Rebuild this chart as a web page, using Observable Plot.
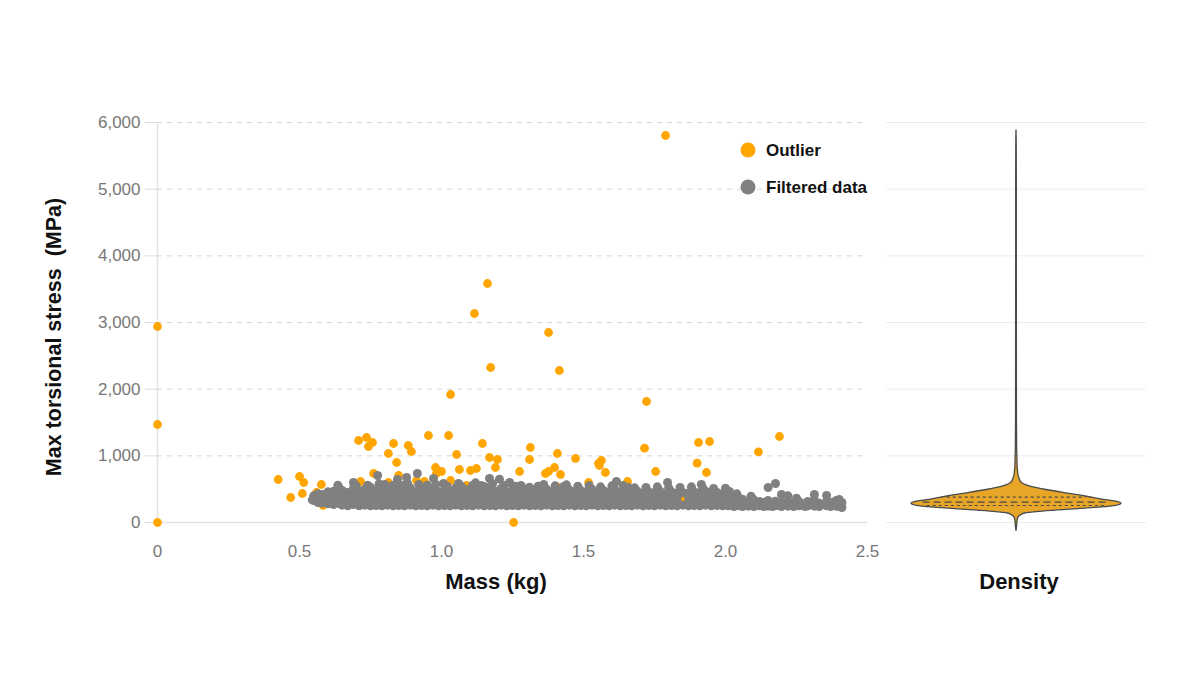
<!DOCTYPE html>
<html>
<head>
<meta charset="utf-8">
<script src="https://cdn.jsdelivr.net/npm/d3@7"></script>
<script src="https://cdn.jsdelivr.net/npm/@observablehq/plot@0.6"></script>
<style>
  html, body { margin: 0; padding: 0; background: #fff; }
  #wrap { position: relative; width: 1196px; height: 673px; overflow: hidden; background: #fff; }
  #wrap > .layer { position: absolute; top: 0; }
  #overlay { position: absolute; left: 0; top: 0; pointer-events: none; }
</style>
</head>
<body>
<div id="wrap">
  <div id="scatter" class="layer" style="left:0"></div>
  <div id="violin" class="layer" style="left:880px"></div>
  <svg id="overlay" width="1196" height="673"></svg>
</div>
<script>
// ---------- data ----------
const xTicks = [0, 0.5, 1.0, 1.5, 2.0, 2.5];
const xTickLabels = ["0", "0.5", "1.0", "1.5", "2.0", "2.5"];
const yTicks = [0, 1000, 2000, 3000, 4000, 5000, 6000];
const yTickLabels = ["0", "1,000", "2,000", "3,000", "4,000", "5,000", "6,000"];

const seriesNames = ["Outlier", "Filtered data"];
const seriesColors = ["#FFA500", "#808080"];

// Outliers: [mass kg, stress MPa]
const outliers = [
  [0, 2940], [0, 1470], [0, 0], [1.789, 5805], [1.162, 3585], [1.116, 3135],
  [1.377, 2850], [1.415, 2280], [1.173, 2325], [1.032, 1920], [1.722, 1815],
  [2.19, 1290], [1.944, 1215], [1.905, 1200], [2.116, 1060], [1.715, 1115],
  [1.933, 750], [1.90, 890], [1.254, 0],
  [0.425, 645], [0.50, 690], [0.515, 600], [0.469, 375], [0.51, 435], [0.56, 450],
  [0.577, 570], [0.583, 255], [0.708, 1230], [0.736, 1275], [0.743, 1140],
  [0.757, 1200], [0.761, 735], [0.715, 615], [0.813, 1035], [0.831, 1185],
  [0.842, 900], [0.883, 1155], [0.894, 1065], [0.849, 705], [0.813, 600],
  [0.954, 1305], [1.025, 1305], [1.053, 1020], [0.979, 825], [1.0, 765],
  [0.982, 735], [1.063, 795], [1.032, 630], [1.144, 1185], [1.169, 975],
  [1.197, 945], [1.19, 825], [1.102, 780], [1.123, 810], [1.313, 1125],
  [1.31, 945], [1.275, 765], [0.94, 615], [0.912, 630], [1.088, 555], [1.158, 525],
  [1.408, 1035], [1.398, 825], [1.377, 765], [1.366, 735], [1.419, 720],
  [1.472, 960], [1.553, 885], [1.563, 930], [1.556, 855], [1.577, 750],
  [1.518, 600], [1.655, 615], [1.754, 765], [1.852, 375], [1.352, 525], [1.405, 540]
];

// Filtered data: [mass kg, stress MPa]
const filtered = [
  [0.545,340],[0.55,330],[0.55,400],
  [0.565,300],[0.565,370],[0.565,430],
  [0.58,290],[0.58,350],[0.58,420],
  [0.60,280],[0.60,340],[0.60,410],[0.60,460],
  [0.62,270],[0.62,330],[0.62,400],[0.62,470],
  [0.635,290],[0.635,360],[0.635,440],[0.635,560],[0.64,520],
  [0.65,260],[0.65,320],[0.65,390],[0.65,480],
  [0.67,250],[0.67,310],[0.67,380],[0.67,450],
  [0.69,270],[0.69,340],[0.69,420],[0.69,510],[0.69,600],
  [0.71,250],[0.71,320],[0.71,390],[0.71,470],[0.70,550],
  [0.73,260],[0.73,330],[0.73,410],[0.73,500],[0.74,560],
  [0.75,250],[0.75,300],[0.75,370],[0.75,450],[0.75,530],
  [0.77,255],[0.77,320],[0.77,400],[0.77,480],[0.775,705],[0.78,580],
  [0.79,250],[0.79,310],[0.79,380],[0.79,460],[0.79,540],
  [0.81,260],[0.81,340],[0.81,420],[0.81,500],[0.80,570],
  [0.83,250],[0.83,300],[0.83,370],[0.83,450],[0.83,560],
  [0.85,255],[0.85,330],[0.85,410],[0.85,490],[0.845,645],[0.86,555],
  [0.87,250],[0.87,310],[0.87,390],[0.87,470],[0.877,675],
  [0.89,260],[0.89,340],[0.89,420],[0.89,520],[0.88,590],
  [0.91,250],[0.91,300],[0.91,380],[0.91,460],[0.915,735],[0.92,570],
  [0.93,255],[0.93,330],[0.93,400],[0.93,490],
  [0.95,250],[0.95,310],[0.95,390],[0.95,470],[0.95,560],
  [0.97,260],[0.97,340],[0.97,420],[0.97,500],[0.972,660],[0.98,570],
  [0.99,250],[0.99,300],[0.99,380],[0.99,460],
  [1.01,255],[1.01,330],[1.01,410],[1.01,490],[1.007,585],
  [1.03,250],[1.03,310],[1.03,390],[1.03,470],[1.02,545],
  [1.05,260],[1.05,340],[1.05,420],[1.05,520],
  [1.07,250],[1.07,300],[1.07,370],[1.07,450],[1.07,540],[1.06,585],
  [1.09,255],[1.09,330],[1.09,410],[1.09,490],
  [1.11,250],[1.11,310],[1.11,390],[1.11,470],[1.11,560],
  [1.13,260],[1.13,340],[1.13,420],[1.13,500],[1.12,595],[1.14,555],
  [1.15,250],[1.15,300],[1.15,380],[1.15,460],[1.15,540],
  [1.17,255],[1.17,330],[1.17,410],[1.17,490],[1.169,660],
  [1.19,250],[1.19,310],[1.19,390],[1.19,470],[1.18,580],
  [1.21,260],[1.21,340],[1.21,420],[1.21,510],[1.204,650],
  [1.23,250],[1.23,300],[1.23,380],[1.23,460],[1.22,560],
  [1.25,255],[1.25,330],[1.25,410],[1.25,490],[1.24,600],
  [1.27,250],[1.27,310],[1.27,390],[1.27,470],[1.26,545],
  [1.29,260],[1.29,340],[1.29,420],[1.29,500],[1.28,555],
  [1.31,250],[1.31,300],[1.31,380],[1.31,460],[1.31,530],
  [1.33,255],[1.33,330],[1.33,410],[1.33,480],[1.34,545],
  [1.35,250],[1.35,310],[1.35,390],[1.35,470],
  [1.37,260],[1.37,340],[1.37,420],[1.37,500],[1.36,570],
  [1.39,250],[1.39,300],[1.39,380],[1.39,460],
  [1.41,255],[1.41,330],[1.41,400],[1.41,480],[1.40,550],
  [1.43,250],[1.43,310],[1.43,390],[1.43,470],[1.43,540],
  [1.45,260],[1.45,340],[1.45,420],[1.45,490],[1.44,565],
  [1.47,250],[1.47,300],[1.47,380],[1.47,460],
  [1.49,255],[1.49,330],[1.49,410],[1.49,480],[1.48,545],
  [1.51,250],[1.51,310],[1.51,390],[1.51,460],
  [1.53,260],[1.53,340],[1.53,420],[1.53,500],[1.52,555],
  [1.55,250],[1.55,300],[1.55,370],[1.55,450],
  [1.57,255],[1.57,330],[1.57,410],[1.57,480],[1.56,535],
  [1.59,250],[1.59,310],[1.59,380],[1.59,460],
  [1.61,260],[1.61,340],[1.61,420],[1.61,500],[1.616,615],[1.60,550],
  [1.63,250],[1.63,300],[1.63,370],[1.63,450],
  [1.65,255],[1.65,320],[1.65,400],[1.65,470],[1.658,525],[1.64,555],
  [1.67,250],[1.67,310],[1.67,380],[1.67,450],
  [1.69,260],[1.69,330],[1.69,400],[1.69,470],[1.68,520],
  [1.71,250],[1.71,300],[1.71,370],[1.71,440],
  [1.73,255],[1.73,320],[1.73,390],[1.73,460],[1.72,525],
  [1.75,250],[1.75,310],[1.75,380],[1.75,450],
  [1.77,260],[1.77,330],[1.77,400],[1.77,470],[1.76,535],
  [1.79,250],[1.79,300],[1.79,370],[1.79,440],[1.796,600],
  [1.81,255],[1.81,320],[1.81,390],[1.81,460],[1.80,520],
  [1.83,250],[1.83,310],[1.83,380],[1.83,440],
  [1.85,260],[1.85,450],[1.84,525],
  [1.87,250],[1.87,300],[1.87,370],[1.87,440],
  [1.89,255],[1.89,320],[1.89,390],[1.89,460],[1.88,535],
  [1.91,250],[1.91,310],[1.91,380],[1.91,450],[1.915,570],
  [1.93,260],[1.93,330],[1.93,400],[1.93,470],[1.92,520],
  [1.95,250],[1.95,300],[1.95,370],[1.95,440],[1.958,510],
  [1.97,255],[1.97,320],[1.97,390],[1.97,450],
  [1.99,250],[1.99,310],[1.99,370],[1.99,430],[2.00,515],
  [2.01,250],[2.01,330],[2.01,400],[2.014,465],
  [2.03,240],[2.03,300],[2.03,360],[2.04,430],
  [2.045,250],[2.045,320],[2.045,375],
  [2.06,240],[2.06,290],[2.06,350],
  [2.08,245],[2.08,310],[2.09,395],
  [2.10,240],[2.10,290],[2.10,340],
  [2.12,250],[2.12,315],
  [2.135,240],[2.135,300],
  [2.15,245],[2.15,330],[2.15,525],
  [2.165,240],[2.165,290],
  [2.176,250],[2.176,320],[2.176,585],
  [2.197,240],[2.197,300],[2.197,420],
  [2.22,245],[2.22,320],[2.22,400],
  [2.24,240],[2.24,290],
  [2.26,250],[2.26,310],[2.25,365],
  [2.28,240],[2.28,280],
  [2.29,250],[2.29,315],
  [2.313,245],[2.313,340],[2.313,420],
  [2.33,240],[2.33,290],
  [2.356,250],[2.356,320],[2.356,405],
  [2.37,240],[2.37,300],
  [2.39,245],[2.39,330],
  [2.40,240],[2.40,345],
  [2.41,225],[2.41,300]
];

// Violin profile: stress (MPa) and relative half-width (1 = widest)
const violinStress  = [-125, -60, 20, 80, 110, 135, 160, 190, 220, 250, 280, 305, 340, 390, 440, 495, 530, 560, 590, 650, 780, 1000, 1330, 2000, 3000, 4000, 5000, 5700, 5880];
const violinDensity = [0, 0.006, 0.01, 0.02, 0.045, 0.08, 0.22, 0.48, 0.75, 0.95, 1.0, 0.97, 0.83, 0.66, 0.46, 0.26, 0.15, 0.09, 0.055, 0.03, 0.013, 0.008, 0.005, 0.004, 0.0035, 0.003, 0.003, 0.002, 0];

// Quartile lines of the violin
const quartileStress = [255, 305, 380];
const quartileWidth  = [0.85, 0.89, 0.66];
const quartileDash   = ["3,3", "7,4", "3,3"];

// ---------- build ----------
const font = "'Liberation Sans', Arial, Helvetica, sans-serif";
const outlierRows = outliers.map(([x, y]) => ({x, y}));
const filteredRows = filtered.map(([x, y]) => ({x, y}));

const scatter = Plot.plot({
  width: 880, height: 600,
  marginLeft: 157, marginRight: 13, marginTop: 122, marginBottom: 78,
  style: {fontFamily: font, fontSize: "17px", background: "transparent", overflow: "visible"},
  x: {domain: [0, 2.5], label: null},
  y: {domain: [0, 6000], label: null},
  marks: [
    Plot.gridY(yTicks.filter(d => d > 0), {stroke: "#d6d6d6", strokeOpacity: 1, strokeDasharray: "5,5"}),
    Plot.ruleX([0], {y1: 0, y2: 6000, stroke: "#e2e2e2", strokeWidth: 1.5}),
    Plot.ruleY([0], {stroke: "#e2e2e2", strokeWidth: 1.5}),
    Plot.axisY({ticks: yTicks, tickSize: 12, tickPadding: 5, stroke: "#dcdcdc", fill: "#777",
      tickFormat: d => yTickLabels[yTicks.indexOf(d)], label: null}),
    Plot.axisX({ticks: xTicks, tickSize: 0, tickPadding: 22, fill: "#777",
      tickFormat: d => xTickLabels[xTicks.indexOf(d)], label: null}),
    Plot.dot(outlierRows, {x: "x", y: "y", r: 4.4, fill: seriesColors[0]}),
    Plot.dot(filteredRows, {x: "x", y: "y", r: 4.5, fill: seriesColors[1]})
  ]
});
document.getElementById("scatter").appendChild(scatter);

const profile = violinStress.map((s, i) => ({s, d: violinDensity[i]}));
const quart = quartileStress.map((s, i) => ({s, w: quartileWidth[i], dash: quartileDash[i]}));
const half = 130 / 105;

const violin = Plot.plot({
  width: 316, height: 600,
  marginLeft: 6, marginRight: 50, marginTop: 122, marginBottom: 78,
  style: {fontFamily: font, background: "transparent", overflow: "visible"},
  x: {domain: [-half, half], axis: null},
  y: {domain: [0, 6000], axis: null},
  marks: [
    Plot.gridY(yTicks, {stroke: "#ececec", strokeOpacity: 1}),
    Plot.areaX(profile, {y: "s", x1: d => -d.d, x2: d => d.d, fill: "#E7A628",
      stroke: "#4a4a4a", strokeWidth: 1.3, curve: "monotone-y"}),
    ...quart.map(q => Plot.ruleY([q], {y: "s", x1: d => -d.w, x2: d => d.w,
      stroke: "#4a4a4a", strokeWidth: 1.1, strokeDasharray: q.dash}))
  ]
});
document.getElementById("violin").appendChild(violin);

// ---------- titles & legend ----------
const ov = d3.select("#overlay");
ov.append("text").attr("x", 496).attr("y", 589).attr("text-anchor", "middle")
  .style("font", `bold 22px ${font}`).attr("fill", "#111").text("Mass (kg)");
ov.append("text").attr("x", 1019).attr("y", 589).attr("text-anchor", "middle")
  .style("font", `bold 22px ${font}`).attr("fill", "#111").text("Density");
ov.append("text").attr("transform", "translate(61,337) rotate(-90)").attr("text-anchor", "middle")
  .style("font", `bold 21.5px ${font}`).style("white-space", "pre").attr("fill", "#111")
  .attr("xml:space", "preserve").text("Max torsional stress  (MPa)");

const legendY = [150, 187];
seriesNames.forEach((name, i) => {
  ov.append("circle").attr("cx", 748).attr("cy", legendY[i]).attr("r", 7.5).attr("fill", seriesColors[i]);
  ov.append("text").attr("x", 766).attr("y", legendY[i] + 6)
    .style("font", `bold 17px ${font}`).attr("fill", "#111").text(name);
});
</script>
</body>
</html>
